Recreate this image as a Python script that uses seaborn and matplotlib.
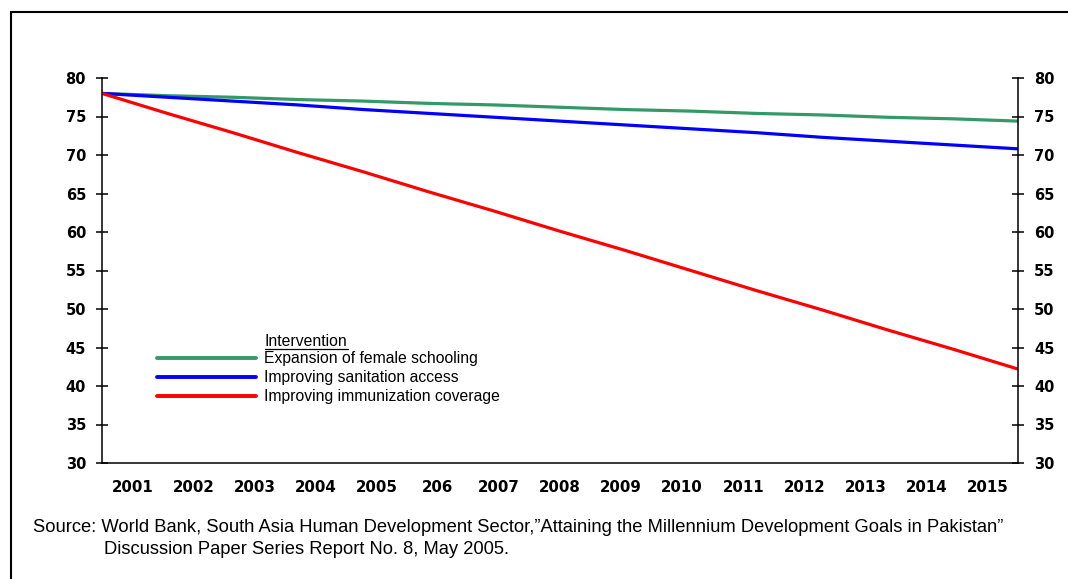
import matplotlib
matplotlib.use("Agg")
import matplotlib.pyplot as plt
from matplotlib.lines import Line2D
import seaborn as sns
import pandas as pd
import numpy as np

# Year labels as printed on the category axis
year_labels = ["2001", "2002", "2003", "2004", "2005", "206", "2007", "2008",
               "2009", "2010", "2011", "2012", "2013", "2014", "2015"]

# Projected values per intervention, one per year
female_schooling = [78.0, 77.7, 77.5, 77.2, 77.0, 76.7, 76.5, 76.2,
                    75.9, 75.7, 75.4, 75.2, 74.9, 74.7, 74.4]
sanitation_access = [78.0, 77.5, 77.0, 76.5, 75.9, 75.4, 74.9, 74.4,
                     73.9, 73.4, 72.9, 72.3, 71.8, 71.3, 70.8]
immunization_coverage = [78.0, 75.4, 72.9, 70.3, 67.8, 65.2, 62.7, 60.1,
                         57.6, 55.0, 52.4, 49.9, 47.3, 44.8, 42.2]

series_names = ["Expansion of female schooling",
                "Improving sanitation access",
                "Improving immunization coverage"]
series_colors = ["#339966", "#0000FF", "#FF0000"]

source_line1 = ("Source: World Bank, South Asia Human Development Sector,\u201dAttaining "
                "the Millennium Development Goals in Pakistan\u201d")
source_line2 = "Discussion Paper Series Report No. 8, May 2005."

n = len(year_labels)
frames = []
for name, vals in zip(series_names, [female_schooling, sanitation_access, immunization_coverage]):
    frames.append(pd.DataFrame({"idx": np.arange(n), "value": vals, "Intervention": name}))
df = pd.concat(frames, ignore_index=True)

sns.set_theme(style="white")
plt.rcParams["font.family"] = ["Liberation Sans", "DejaVu Sans"]

W, H = 1068, 579
fig = plt.figure(figsize=(W / 100, H / 100), dpi=100)
ax = fig.add_axes([102 / W, (H - 463) / H, 916 / W, 385 / H])

sns.lineplot(data=df, x="idx", y="value", hue="Intervention",
             palette=dict(zip(series_names, series_colors)),
             hue_order=series_names, linewidth=2.3, legend=False, ax=ax)

ax.set_xlim(0, n - 1)
ax.set_ylim(30, 80)
ax.set_xlabel("")
ax.set_ylabel("")

tick_font = dict(family="DejaVu Sans", weight="bold")

# Category axis: boundary ticks, labels centred in each bin
edges = np.linspace(0, n - 1, n + 1)
centers = (edges[:-1] + edges[1:]) / 2
ax.set_xticks(edges)
ax.set_xticklabels([])
ax.set_xticks(centers, minor=True)
ax.set_xticklabels(year_labels, minor=True, fontsize=10.8, color="black", **tick_font)
ax.tick_params(axis="x", which="major", direction="inout", length=6, width=1.1, color="black")
ax.tick_params(axis="x", which="minor", length=0, pad=12)

# Value axis, labelled on both sides
yt = np.arange(30, 81, 5)
ax.set_yticks(yt)
ax.tick_params(axis="y", which="major", direction="inout", length=9, width=1.1,
               color="black", left=True, right=True, labelleft=True, labelright=True,
               pad=7)
ax.set_yticklabels([str(v) for v in yt], fontsize=10.5, color="black", **tick_font)
for tick in ax.yaxis.get_major_ticks():
    tick.label2.set_fontfamily("DejaVu Sans")
    tick.label2.set_fontweight("bold")
    tick.label2.set_fontsize(10.5)
    tick.label2.set_color("black")

for side in ["left", "right", "bottom"]:
    ax.spines[side].set_visible(True)
    ax.spines[side].set_color("black")
    ax.spines[side].set_linewidth(1.1)
ax.spines["top"].set_visible(False)
ax.grid(False)

# Legend
handles = [Line2D([0], [0], color=c, lw=2.8) for c in series_colors]
leg = ax.legend(handles, series_names, loc="upper left",
                bbox_to_anchor=((157 - 102) / 916, (463 - 351) / 385),
                frameon=False, fontsize=11.3, handlelength=6.3, handletextpad=0.5,
                labelspacing=0.27, borderaxespad=0, borderpad=0)
for t in leg.get_texts():
    t.set_color("black")

title = fig.text(265 / W, 1 - 341 / H, "Intervention", fontsize=11.3,
                 ha="left", va="center", color="black")
fig.canvas.draw()
bb = title.get_window_extent(fig.canvas.get_renderer())
fig.add_artist(Line2D([bb.x0 / W, bb.x1 / W], [(bb.y0 - 0.5) / H, (bb.y0 - 0.5) / H],
                      color="black", lw=0.9, transform=fig.transFigure))

# Source note
fig.text(33 / W, 1 - 527 / H, source_line1, fontsize=13.2, ha="left", va="center", color="black")
fig.text(104 / W, 1 - 550 / H, source_line2, fontsize=13.2, ha="left", va="center", color="black")

# Outer frame (top and left edges)
fig.add_artist(Line2D([11 / W, 1.0], [1 - 12 / H, 1 - 12 / H], color="black", lw=1.5,
                      transform=fig.transFigure))
fig.add_artist(Line2D([11 / W, 11 / W], [0, 1 - 12 / H], color="black", lw=1.5,
                      transform=fig.transFigure))

fig.savefig("out.png", dpi=100)
